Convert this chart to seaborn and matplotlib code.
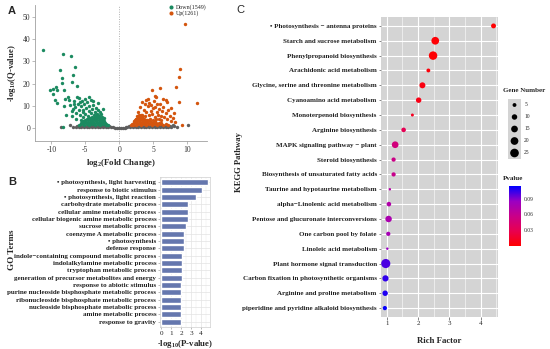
import matplotlib
matplotlib.use("Agg")
import matplotlib.pyplot as plt
import numpy as np
import pandas as pd
import seaborn as sns
from matplotlib.colors import LinearSegmentedColormap, Normalize
from matplotlib.cm import ScalarMappable

# ---------------- data: panel A (volcano) ----------------
down_points = [
    (-11.2, 35.1), (-8.3, 33.2), (-7.15, 32.4), (-6.5, 27.3), (-8.7, 26.1), (-8.4, 22.4), (-6.85, 23.9),
    (-8.5, 20.4), (-6.9, 20.9), (-6.2, 18.9), (-10.2, 17.1), (-9.7, 17.4), (-9.3, 18.3), (-9.1, 16.9),
    (-8.1, 16.9), (-9.45, 12.6), (-9.2, 11.1), (-8.2, 9.9), (-7.6, 14.0), (-7.4, 12.5), (-8.0, 13.2),
    (-6.8, 8.5), (-8.3, 0.4), (-7.8, 6.0), (-9.8, 15.5),
    (-7.2, 10.5), (-7.0, 7.8), (-6.9, 5.5), (-6.7, 12.3), (-6.5, 9.2), (-6.4, 6.8), (-6.3, 4.2), (-6.1, 11.0),
    (-6.0, 8.0), (-5.9, 13.4), (-5.8, 5.9), (-5.7, 3.5), (-5.6, 9.8), (-5.5, 12.1), (-5.4, 7.2), (-5.3, 4.8),
    (-5.2, 10.6), (-5.1, 13.0), (-5.0, 6.3), (-4.9, 8.9), (-4.8, 3.9), (-4.7, 11.5), (-4.6, 5.4), (-4.5, 7.6),
    (-4.4, 9.9), (-4.3, 4.5), (-4.2, 12.6), (-4.1, 6.8), (-4.0, 8.4), (-3.9, 3.8), (-3.8, 10.4), (-3.7, 5.7),
    (-3.6, 7.3), (-3.5, 9.1), (-3.4, 4.9), (-3.3, 6.2), (-3.2, 11.2), (-3.1, 8.0), (-3.0, 5.2), (-2.9, 7.0),
    (-2.8, 4.3), (-2.7, 6.1), (-2.6, 3.6), (-2.5, 5.0), (-2.4, 8.6), (-2.3, 3.1), (-2.2, 4.4), (-6.6, 10.8),
    (-5.3, 8.1), (-4.5, 13.8), (-3.9, 12.0), (-5.8, 11.6), (-6.2, 13.9),
    (-6.0, 1.5), (-5.6, 1.6), (-5.2, 1.4), (-4.8, 1.6), (-4.4, 1.4), (-4.0, 1.6), (-3.6, 1.4), (-3.2, 1.6),
    (-2.8, 1.4), (-2.4, 1.6), (-2.0, 1.4), (-1.7, 1.3),
    (-5.7, 2.2), (-5.3, 2.3), (-4.9, 2.1), (-4.5, 2.3), (-4.1, 2.1), (-3.7, 2.3), (-3.3, 2.1), (-2.9, 2.3),
    (-2.5, 2.1), (-2.1, 2.2), (-1.9, 1.9),
    (-5.4, 2.9), (-5.0, 3.0), (-4.6, 2.8), (-4.2, 3.0), (-3.8, 2.8), (-3.4, 3.0), (-3.0, 2.8), (-2.6, 3.0),
    (-2.3, 2.7),
    (-5.0, 3.6), (-4.6, 3.7), (-4.2, 3.5), (-3.8, 3.7), (-3.4, 3.5), (-3.0, 3.7), (-2.7, 3.5), (-2.4, 3.4),
    (-4.5, 4.3), (-4.1, 4.4), (-3.7, 4.2), (-3.3, 4.4), (-2.9, 4.2), (-2.6, 4.1),
    (-4.0, 5.0), (-3.6, 5.1), (-3.2, 4.9), (-2.9, 4.8),
    (-3.5, 5.7), (-3.1, 5.6),
]

up_points = [
    (9.7, 46.8), (9.0, 26.4), (8.8, 23.1), (8.3, 18.3), (4.75, 17.1), (8.8, 11.9), (7.0, 11.9), (9.2, 1.3),
    (6.0, 18.2), (11.4, 11.1), (7.6, 9.0), (8.0, 6.5), (6.5, 13.0), (5.2, 14.5), (4.2, 13.2), (3.8, 11.0),
    (2.6, 5.2), (2.8, 7.1), (3.0, 4.3), (3.1, 9.3), (3.3, 6.0), (3.4, 11.8), (3.5, 3.8), (3.6, 8.2),
    (3.8, 5.3), (3.9, 12.8), (4.0, 7.0), (4.1, 3.6), (4.2, 9.9), (4.3, 5.8), (4.4, 11.2), (4.5, 4.1),
    (4.6, 7.8), (4.7, 10.3), (4.8, 6.1), (4.9, 3.5), (5.0, 8.8), (5.1, 12.1), (5.2, 5.0), (5.3, 9.6),
    (5.4, 3.9), (5.5, 7.3), (5.6, 11.0), (5.7, 6.0), (5.8, 4.2), (5.9, 8.5), (6.0, 10.6), (6.1, 5.4),
    (6.2, 3.4), (6.3, 7.5), (6.5, 9.4), (6.6, 4.8), (6.8, 6.6), (7.0, 3.8), (7.2, 8.0), (7.4, 5.2),
    (7.6, 3.2), (7.9, 4.6), (8.2, 2.6), (6.9, 12.4), (5.4, 13.8), (2.4, 4.0), (2.2, 3.0),
    (1.7, 1.3), (2.0, 1.5), (2.4, 1.4), (2.8, 1.6), (3.2, 1.4), (3.6, 1.6), (4.0, 1.4), (4.4, 1.6),
    (4.8, 1.4), (5.2, 1.6), (5.6, 1.4), (6.0, 1.6), (6.4, 1.4), (6.8, 1.6), (7.2, 1.4),
    (1.9, 1.9), (2.2, 2.2), (2.6, 2.3), (3.0, 2.1), (3.4, 2.3), (3.8, 2.1), (4.2, 2.3), (4.6, 2.1),
    (5.0, 2.3), (5.4, 2.1), (5.8, 2.2), (6.2, 2.1),
    (2.1, 2.7), (2.5, 2.9), (2.9, 3.0), (3.3, 2.8), (3.7, 3.0), (4.1, 2.8), (4.5, 3.0), (4.9, 2.8), (5.3, 2.9),
    (2.3, 3.4), (2.7, 3.6), (3.1, 3.7), (3.5, 3.5), (3.9, 3.7), (4.3, 3.5),
    (2.5, 4.2), (2.9, 4.4), (3.3, 4.3), (3.7, 4.1),
    (2.7, 5.0), (3.1, 5.1), (3.4, 4.9),
    (2.9, 5.7), (3.2, 5.6),
]

ns_points = [
    (-6.4, 0.4), (-6.0, 0.5), (-5.6, 0.3), (-5.2, 0.5), (-4.8, 0.3), (-4.4, 0.5), (-4.0, 0.3), (-3.6, 0.5),
    (-3.2, 0.3), (-2.8, 0.5), (-2.4, 0.3), (-2.0, 0.4), (-1.6, 0.3), (-1.2, 0.35),
    (1.2, 0.35), (1.6, 0.3), (2.0, 0.4), (2.4, 0.3), (2.8, 0.5), (3.2, 0.3), (3.6, 0.5), (4.0, 0.3),
    (4.4, 0.5), (4.8, 0.3), (5.2, 0.5), (5.6, 0.3), (6.0, 0.5), (6.4, 0.3), (6.8, 0.5), (7.2, 0.3), (7.6, 0.4),
    (-1.0, 0.25), (-0.7, 0.12), (-0.4, 0.05), (-0.1, 0.0), (0.2, 0.02), (0.5, 0.08), (0.8, 0.18), (1.0, 0.3),
    (-6.2, 0.9), (-5.8, 1.0), (-5.4, 0.8), (-5.0, 1.0), (-4.6, 0.8), (-4.2, 1.0), (-3.8, 0.8), (-3.4, 1.0),
    (-3.0, 0.8), (-2.6, 1.0), (-2.2, 0.8), (-1.8, 0.9), (-1.5, 0.7),
    (1.5, 0.7), (1.8, 0.9), (2.2, 0.8), (2.6, 1.0), (3.0, 0.8), (3.4, 1.0), (3.8, 0.8), (4.2, 1.0),
    (4.6, 0.8), (5.0, 1.0), (5.4, 0.8), (5.8, 1.0), (6.2, 0.8), (6.6, 1.0), (7.0, 0.8), (7.4, 0.9),
    (-7.2, 1.1), (-6.8, 0.6), (8.0, 0.8), (8.5, 0.3), (10.1, 1.35), (-8.6, 0.2), (7.9, 1.4),
]

# ---------------- data: panel B (GO terms) ----------------
go_terms = [
    "\u2022 photosynthesis, light harvesting",
    "response to biotic stimulus",
    "\u2022 photosynthesis, light reaction",
    "carbohydrate metabolic process",
    "cellular amine metabolic process",
    "cellular biogenic amine metabolic process",
    "sucrose metabolic process",
    "coenzyme A metabolic process",
    "\u2022 photosynthesis",
    "defense response",
    "indole\u2212containing compound metabolic process",
    "indolalkylamine metabolic process",
    "tryptophan metabolic process",
    "generation of precursor metabolites and energy",
    "response to abiotic stimulus",
    "purine nucleoside bisphosphate metabolic process",
    "ribonucleoside bisphosphate metabolic process",
    "nucleoside bisphosphate metabolic process",
    "amine metabolic process",
    "response to gravity",
]
go_values = [4.67, 4.13, 3.5, 2.72, 2.72, 2.72, 2.5, 2.3, 2.3, 2.25, 2.07, 2.07, 2.07, 2.07,
             2.03, 2.03, 2.03, 2.03, 2.0, 2.0]

# ---------------- data: panel C (KEGG) ----------------
kegg_paths = [
    "\u2022 Photosynthesis \u2212 antenna proteins",
    "Starch and sucrose metabolism",
    "Phenylpropanoid biosynthesis",
    "Arachidonic acid metabolism",
    "Glycine, serine and threonine metabolism",
    "Cyanoamino acid metabolism",
    "Monoterpenoid biosynthesis",
    "Arginine biosynthesis",
    "MAPK signaling pathway \u2212 plant",
    "Steroid biosynthesis",
    "Biosynthesis of unsaturated fatty acids",
    "Taurine and hypotaurine metabolism",
    "alpha\u2212Linolenic acid metabolism",
    "Pentose and glucuronate interconversions",
    "One carbon pool by folate",
    "Linoleic acid metabolism",
    "Plant hormone signal transduction",
    "Carbon fixation in photosynthetic organisms",
    "Arginine and proline metabolism",
    "piperidine and pyridine alkaloid biosynthesis",
]
kegg_rich = [4.41, 2.55, 2.48, 2.33, 2.14, 2.02, 1.82, 1.54, 1.27, 1.22, 1.22, 1.1, 1.07, 1.06,
             1.05, 1.02, 0.97, 0.96, 0.95, 0.94]
kegg_genes = [8, 20, 24, 5, 12, 10, 3, 7, 15, 6, 6, 2, 7, 14, 6, 2, 28, 13, 10, 6]
kegg_p = [0.0005, 0.002, 0.001, 0.004, 0.006, 0.008, 0.012, 0.03, 0.05, 0.055, 0.058, 0.07,
          0.072, 0.075, 0.078, 0.085, 0.1, 0.105, 0.108, 0.113]
legend_genes = [5, 10, 15, 20, 25]
pvalue_ticks = [0.03, 0.06, 0.09]

# ---------------- style ----------------
sns.set_theme(style="white")
plt.rcParams.update({
    "font.family": ["Liberation Serif", "DejaVu Serif"],
    "font.weight": "bold",
    "axes.labelweight": "bold",
    "mathtext.fontset": "custom",
    "mathtext.rm": "Liberation Serif:bold",
    "mathtext.it": "Liberation Serif:italic:bold",
    "mathtext.bf": "Liberation Serif:bold",
    "axes.unicode_minus": False,
})

W, H = 550, 349
fig = plt.figure(figsize=(W / 100, H / 100), dpi=100)


def box(l, t, r, b):
    return [l / W, 1 - b / H, (r - l) / W, (b - t) / H]


def fpos(x, y):
    return x / W, 1 - y / H


# ---------------- panel A ----------------
axA = fig.add_axes(box(35, 5, 207, 141))
ns_df = pd.DataFrame(ns_points, columns=["fc", "q"])
dn_df = pd.DataFrame(down_points, columns=["fc", "q"])
up_df = pd.DataFrame(up_points, columns=["fc", "q"])
sns.scatterplot(data=ns_df, x="fc", y="q", color="#5e5e5e", s=6, linewidth=0, ax=axA)
sns.scatterplot(data=dn_df, x="fc", y="q", color="#1b8a60", s=6, linewidth=0, ax=axA,
                label="Down(1549)")
sns.scatterplot(data=up_df, x="fc", y="q", color="#d4550e", s=6, linewidth=0, ax=axA,
                label="Up(1261)")
axA.axvline(0, color="#b0b0b0", ls=(0, (1, 1.5)), lw=0.7, zorder=0)
axA.set_xlim(-12.4, 12.9)
axA.set_ylim(-5.9, 55.4)
axA.set_xticks([-10, -5, 0, 5, 10])
axA.set_yticks([0, 10, 20, 30, 40, 50])
for s in ["top", "right"]:
    axA.spines[s].set_visible(False)
for s in ["left", "bottom"]:
    axA.spines[s].set_color("#a0a0a0")
    axA.spines[s].set_linewidth(0.6)
axA.tick_params(axis="both", length=2, width=0.5, color="#a0a0a0", labelsize=5.5,
                pad=1.5, labelcolor="#333333", bottom=True, left=True)
for lab in axA.get_xticklabels() + axA.get_yticklabels():
    lab.set_fontweight("normal")
axA.set_xlabel(r"log$_{2}$(Fold Change)", fontsize=6.3, labelpad=2)
axA.set_ylabel(r"-log$_{10}$(Q-value)", fontsize=6.3, labelpad=3)
leg = axA.legend(loc="upper right", bbox_to_anchor=(1.02, 1.04), frameon=False, fontsize=4.3,
                 handletextpad=0.3, handlelength=0.8, borderpad=0.2, labelspacing=0.1,
                 markerscale=1.2)
for t in leg.get_texts():
    t.set_fontweight("normal")

# ---------------- panel B ----------------
axB = fig.add_axes(box(160, 177, 210, 327))
sns.barplot(x=go_values, y=go_terms, orient="h", color="#6577ae", saturation=1, width=0.84,
            ax=axB)
axB.set_xlim(-0.1, 4.9)
axB.set_ylim(19.72, -0.72)
axB.set_xticks([0, 1, 2, 3, 4])
axB.set_xticks([0.5, 1.5, 2.5, 3.5, 4.5], minor=True)
axB.set_axisbelow(True)
axB.grid(True, which="major", color="#e3e3e3", lw=0.5)
axB.grid(True, which="minor", axis="x", color="#eeeeee", lw=0.35)
for s in axB.spines.values():
    s.set_color("#cfcfcf")
    s.set_linewidth(0.5)
axB.tick_params(axis="both", which="major", length=1.5, width=0.4, color="#888888",
                labelsize=5, pad=1.2, labelcolor="#222222", bottom=True, left=True)
axB.tick_params(axis="x", which="minor", length=0)
for lab in axB.get_xticklabels():
    lab.set_fontweight("normal")
    lab.set_fontsize(5.2)
axB.set_xlabel(r"-log$_{10}$(P-value)", fontsize=6.3, labelpad=1.5)
axB.set_ylabel("")
fig.text(*fpos(12, 250), "GO Terms", rotation=90, fontsize=6.5, ha="center", va="center")

# ---------------- panel C ----------------
cmap = LinearSegmentedColormap.from_list(
    "rb", ["#FF0000", "#E80050", "#C90089", "#9A00C3", "#0000FF"])
pnorm = Normalize(vmin=0.0, vmax=0.114)
k = 1.55
axC = fig.add_axes(box(381, 17, 498, 317))
kegg_df = pd.DataFrame({"path": kegg_paths, "rich": kegg_rich, "gene": kegg_genes, "p": kegg_p})
sns.scatterplot(data=kegg_df, x="rich", y="path", size="gene", sizes=(k * 2, k * 28),
                size_norm=(2, 28), hue="p", palette=cmap, hue_norm=pnorm, linewidth=0,
                legend=False, ax=axC, zorder=3)
axC.set_facecolor("#d4d4d4")
axC.set_xlim(0.818, 4.553)
axC.set_ylim(19.6, -0.6)
axC.set_xticks([1, 2, 3, 4])
axC.set_xticks([1.5, 2.5, 3.5, 4.5], minor=True)
axC.set_axisbelow(True)
axC.grid(True, which="major", color="white", lw=0.8)
axC.grid(True, which="minor", axis="x", color="white", lw=0.4)
for s in axC.spines.values():
    s.set_visible(False)
axC.tick_params(axis="both", which="major", length=1.8, width=0.5, color="#555555",
                labelsize=5.0, pad=1.2, labelcolor="#222222", bottom=True, left=True)
axC.tick_params(axis="x", which="minor", length=0)
for lab in axC.get_xticklabels():
    lab.set_fontweight("normal")
    lab.set_fontsize(5)
axC.set_xlabel("Rich Factor", fontsize=6.3, labelpad=8)
axC.set_ylabel("")
fig.text(*fpos(239, 162), "KEGG Pathway", rotation=90, fontsize=6.2, ha="center", va="center")

# gene number legend
fig.text(*fpos(503, 91), "Gene Number", fontsize=5, ha="left", va="center")
axL = fig.add_axes(box(508, 99, 521, 159))
axL.set_facecolor("#d4d4d4")
leg_df = pd.DataFrame({"x": [0] * len(legend_genes), "y": list(range(len(legend_genes))),
                       "gene": legend_genes})
sns.scatterplot(data=leg_df, x="x", y="y", size="gene", sizes=(k * 2, k * 28), size_norm=(2, 28),
                color="black", linewidth=0, legend=False, ax=axL)
axL.set_xlim(-0.5, 0.5)
axL.set_ylim(len(legend_genes) - 0.5, -0.5)
axL.set_xticks([])
axL.set_yticks([])
axL.set_xlabel("")
axL.set_ylabel("")
for s in axL.spines.values():
    s.set_visible(False)
for i, g in enumerate(legend_genes):
    axL.text(0.75, i, str(g), fontsize=4, va="center", ha="left", fontweight="normal")

# p-value colorbar
fig.text(*fpos(503, 179), "Pvalue", fontsize=5, ha="left", va="center")
cax = fig.add_axes(box(509, 186, 521, 246))
cb = fig.colorbar(ScalarMappable(norm=pnorm, cmap=cmap), cax=cax, ticks=pvalue_ticks)
cb.outline.set_visible(False)
cax.tick_params(length=2, width=0.5, color="white", direction="in", labelsize=4, pad=2)
cax.set_yticklabels([f"{v:.2f}" for v in pvalue_ticks])
for lab in cax.get_yticklabels():
    lab.set_fontweight("normal")

# panel letters
fig.text(*fpos(8, 11), "A", fontsize=8, fontweight="bold", family="Liberation Sans",
         ha="left", va="center")
fig.text(*fpos(8, 182), "B", fontsize=8, fontweight="bold", family="Liberation Sans",
         ha="left", va="center")
fig.text(*fpos(236, 10), "C", fontsize=8, fontweight="normal", family="Liberation Sans",
         ha="left", va="center")

fig.savefig("out.png", dpi=100)
